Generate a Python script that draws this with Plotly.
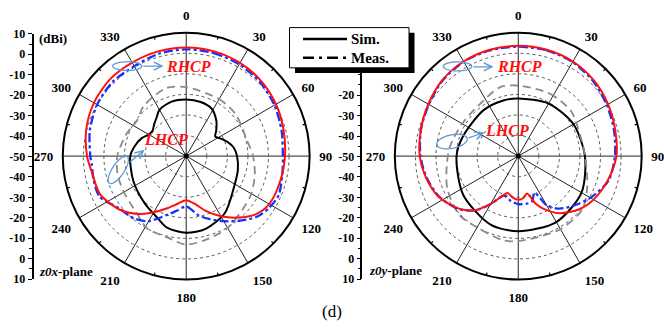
import numpy as np
import plotly.graph_objects as go

W, H = 664, 333

# ---------------- data (dBi vs angle in degrees) ----------------
angle_ticks = [0, 30, 60, 90, 120, 150, 180, 210, 240, 270, 300, 330]
scale_vals = list(range(-60, 61, 10))
scale_text = ["10", "0", "-10", "-20", "-30", "-40", "-50", "-40", "-30", "-20", "-10", "0", "10"]
# on the right-hand scale the top three labels are hidden behind the legend box
n_hidden_right = 3
legend_labels = ["Sim.", "Meas."]

# z0x-plane
zx_sim_rhcp_theta = [0, 15, 30, 45, 60, 75, 90, 105, 120, 130, 140, 150, 160, 170, 180, 190, 200, 210, 218, 225, 232, 246, 260, 270, 285, 300, 315, 330, 345, 360]
zx_sim_rhcp_r = [2.8, 2.7, 2.3, 1.6, 0.4, -1.0, -2.0, -2.7, -3.4, -6.0, -11.0, -16.2, -21.5, -26.5, -28.6, -26.5, -23.0, -18.5, -14.3, -11.0, -8.2, -4.2, -3.5, -1.8, 0.3, 1.8, 2.6, 2.5, 2.7, 2.8]

zx_meas_rhcp_theta = [0, 15, 30, 45, 60, 75, 90, 100, 113, 122, 130, 140, 150, 160, 168, 180, 190, 198, 210, 220, 232, 245, 255, 265, 270, 285, 300, 315, 330, 345, 360]
zx_meas_rhcp_r = [1.9, 1.8, 1.5, 0.8, -0.5, -2.0, -3.0, -2.5, -1.2, -2.5, -4.5, -9.0, -13.5, -17.5, -20.5, -25.5, -23.0, -20.0, -13.5, -10.5, -8.7, -3.5, -3.5, -3.9, -3.4, -1.5, 0.0, 0.8, 0.5, 1.5, 1.9]

zx_sim_lhcp_theta = [0, 15, 28, 41, 50, 56, 62, 71, 80, 90, 105, 123, 146, 165, 180, 195, 205, 221, 245, 270, 280, 292, 300, 307, 315, 322, 330, 345, 360]
zx_sim_lhcp_r = [-22.5, -22.8, -23.8, -27.6, -31.0, -33.0, -31.5, -28.8, -26.5, -25.3, -24.0, -22.3, -16.5, -13.4, -12.7, -14.0, -16.9, -19.4, -21.6, -22.8, -24.3, -26.7, -29.0, -29.5, -28.0, -26.5, -24.0, -22.6, -22.5]

zx_meas_lhcp_theta = [0, 30, 50, 75, 90, 105, 122, 150, 167, 180, 194, 208, 221, 240, 255, 270, 290, 306, 320, 344, 360]
zx_meas_lhcp_r = [-16.5, -18.0, -18.5, -19.5, -17.5, -15.5, -13.2, -9.7, -8.2, -7.0, -9.5, -10.0, -13.3, -15.0, -15.5, -16.5, -19.0, -20.5, -18.0, -15.5, -16.5]

# z0y-plane
zy_sim_rhcp_theta = [0, 15, 30, 45, 60, 75, 90, 105, 120, 131, 144, 155, 160, 167, 173, 180, 187, 196, 202, 210, 219, 229, 243, 257, 270, 285, 300, 315, 330, 345, 360]
zy_sim_rhcp_r = [3.6, 3.5, 3.1, 2.0, 0.4, -1.2, -2.3, -4.9, -7.7, -10.6, -15.7, -22.0, -25.5, -31.3, -29.5, -28.8, -29.5, -31.3, -29.0, -23.2, -16.1, -11.3, -6.5, -3.9, -2.1, -1.0, 0.5, 2.2, 3.1, 3.5, 3.6]

zy_meas_rhcp_theta = [0, 15, 30, 45, 60, 75, 90, 105, 119, 130, 142, 150, 156, 163, 170, 180, 190, 200, 210, 219, 229, 243, 257, 270, 285, 300, 315, 330, 345, 360]
zy_meas_rhcp_r = [3.2, 3.2, 2.8, 1.5, -0.3, -1.8, -3.0, -4.5, -9.1, -13.3, -17.6, -22.5, -30.5, -27.0, -26.5, -26.7, -28.0, -29.6, -23.0, -16.0, -11.0, -6.8, -4.2, -2.5, -1.0, 0.2, 2.0, 3.0, 3.2, 3.2]

zy_sim_lhcp_theta = [0, 30, 60, 90, 120, 150, 180, 202, 235, 270, 290, 323, 345, 360]
zy_sim_lhcp_r = [-22.0, -20.5, -19.0, -17.6, -14.5, -13.0, -13.5, -14.1, -17.3, -20.0, -21.5, -22.0, -22.0, -22.0]

zy_meas_lhcp_theta = [0, 27, 50, 73, 90, 114, 130, 150, 167, 180, 190, 210, 225, 245, 263, 278, 300, 322, 345, 360]
zy_meas_lhcp_r = [-15.7, -16.0, -16.3, -18.3, -17.5, -13.3, -9.4, -9.0, -9.5, -8.7, -8.4, -10.0, -9.5, -12.0, -15.0, -16.5, -18.5, -18.7, -15.4, -15.7]

# ---------------- styling helpers ----------------
FONT = "Liberation Serif"
RED = "#ff1010"
BLUE = "#1530ff"
GRAY = "#8a8a8a"
LBLUE = "#5b9bd5"
DASHDOT = "9px,3px,3px,3px"
R_MIN, R_MAX = -50, 10


def px(x):
    return x / W


def py(y):
    return 1 - y / H


fig = go.Figure()

# minor angular ticks (inside the outer ring, midway between labelled angles)
minor_theta, minor_r = [], []
for a in angle_ticks:
    minor_theta += [a + 15, a + 15, None]
    minor_r += [R_MAX - 1.4, R_MAX, None]


def add_plane(sub, sim_rhcp, meas_rhcp, sim_lhcp, meas_lhcp):
    fig.add_trace(go.Scatterpolar(theta=minor_theta, r=minor_r, mode="lines", subplot=sub,
                                  line=dict(color="black", width=1.2), connectgaps=False,
                                  showlegend=False, hoverinfo="skip"))
    fig.add_trace(go.Scatterpolar(theta=sim_lhcp[0], r=sim_lhcp[1], mode="lines", subplot=sub,
                                  line=dict(color="black", width=2, shape="spline", smoothing=0.8),
                                  showlegend=False, hoverinfo="skip"))
    fig.add_trace(go.Scatterpolar(theta=meas_lhcp[0], r=meas_lhcp[1], mode="lines", subplot=sub,
                                  line=dict(color=GRAY, width=1.8, dash="8px,5px", shape="spline", smoothing=0.8),
                                  showlegend=False, hoverinfo="skip"))
    fig.add_trace(go.Scatterpolar(theta=meas_rhcp[0], r=meas_rhcp[1], mode="lines", subplot=sub,
                                  line=dict(color=BLUE, width=2.3, dash=DASHDOT, shape="spline", smoothing=0.8),
                                  showlegend=False, hoverinfo="skip"))
    fig.add_trace(go.Scatterpolar(theta=sim_rhcp[0], r=sim_rhcp[1], mode="lines", subplot=sub,
                                  line=dict(color=RED, width=2, shape="spline", smoothing=0.8),
                                  showlegend=False, hoverinfo="skip"))
    fig.add_trace(go.Scatterpolar(theta=[0], r=[R_MIN], mode="markers", subplot=sub,
                                  marker=dict(color="black", size=5), showlegend=False, hoverinfo="skip"))


add_plane("polar", (zx_sim_rhcp_theta, zx_sim_rhcp_r), (zx_meas_rhcp_theta, zx_meas_rhcp_r),
          (zx_sim_lhcp_theta, zx_sim_lhcp_r), (zx_meas_lhcp_theta, zx_meas_lhcp_r))
add_plane("polar2", (zy_sim_rhcp_theta, zy_sim_rhcp_r), (zy_meas_rhcp_theta, zy_meas_rhcp_r),
          (zy_sim_lhcp_theta, zy_sim_lhcp_r), (zy_meas_lhcp_theta, zy_meas_lhcp_r))

# invisible traces to hold the scale axes
fig.add_trace(go.Scatter(x=[None], y=[None], xaxis="x", yaxis="y", showlegend=False, hoverinfo="skip"))
fig.add_trace(go.Scatter(x=[None], y=[None], xaxis="x2", yaxis="y2", showlegend=False, hoverinfo="skip"))

y_dom = [py(284.5), py(26.8)]
y_scale_dom = [py(284.0), py(28.0)]

polar_common = dict(
    bgcolor="rgba(0,0,0,0)",
    angularaxis=dict(direction="clockwise", rotation=90, tickvals=angle_ticks,
                     ticktext=[str(a) for a in angle_ticks], showline=True, linecolor="black",
                     linewidth=2, gridcolor="#222", gridwidth=1, ticks="outside", ticklen=6,
                     tickcolor="rgba(0,0,0,0)",
                     tickfont=dict(family=FONT, size=13, color="black", weight="bold")),
    radialaxis=dict(range=[R_MIN, R_MAX], tick0=R_MIN, dtick=10, showticklabels=False, ticks="",
                    showline=False, gridcolor="#555", gridwidth=1, griddash="dot"),
)

yaxis_common = dict(range=[-60, 60], ticks="outside",
                    ticklen=4, tickwidth=1.2, tickcolor="black", showline=True, linecolor="black",
                    linewidth=1.5, showgrid=False, zeroline=False, fixedrange=True,
                    minor=dict(dtick=5, ticks="outside", ticklen=2.5, tickcolor="black", tickwidth=1),
                    tickfont=dict(family=FONT, size=12, color="black", weight="bold"))

fig.update_layout(
    width=W, height=H, margin=dict(l=0, r=0, t=0, b=0),
    paper_bgcolor="white", plot_bgcolor="rgba(0,0,0,0)",
    polar=dict(domain=dict(x=[px(57.4), px(315.0)], y=y_dom), **polar_common),
    polar2=dict(domain=dict(x=[px(390.5), px(646.0)], y=y_dom), **polar_common),
    xaxis=dict(domain=[px(33.5), px(40)], visible=False, anchor="y"),
    yaxis=dict(domain=y_scale_dom, anchor="x", tickvals=scale_vals, ticktext=scale_text, **yaxis_common),
    xaxis2=dict(domain=[px(362.3), px(369)], visible=False, anchor="y2"),
    yaxis2=dict(domain=y_scale_dom, anchor="x2",
                tickvals=scale_vals[:len(scale_vals) - n_hidden_right],
                ticktext=scale_text[:len(scale_text) - n_hidden_right], **yaxis_common),
    showlegend=False,
)

shapes = []
# legend box with shadow
shapes.append(dict(type="rect", xref="paper", yref="paper", x0=px(295), x1=px(414.5), y0=py(69), y1=py(27),
                   fillcolor="black", line=dict(width=0), layer="above"))
shapes.append(dict(type="rect", xref="paper", yref="paper", x0=px(289.5), x1=px(409), y0=py(63.5), y1=py(21.5),
                   fillcolor="white", line=dict(color="black", width=1), layer="above"))
shapes.append(dict(type="line", xref="paper", yref="paper", x0=px(303), x1=px(347), y0=py(33.5), y1=py(33.5),
                   line=dict(color="black", width=2.5), layer="above"))
shapes.append(dict(type="line", xref="paper", yref="paper", x0=px(303), x1=px(347), y0=py(53), y1=py(53),
                   line=dict(color="black", width=2.5, dash="11px,5px,3px,5px"), layer="above"))


def ellipse_path(cx, cy, rx, ry, rot_deg):
    t = np.linspace(0, 2 * np.pi, 60)
    a = np.deg2rad(rot_deg)
    xs = cx + rx * np.cos(t) * np.cos(a) - ry * np.sin(t) * np.sin(a)
    ys = cy + rx * np.cos(t) * np.sin(a) + ry * np.sin(t) * np.cos(a)
    pts = ["%s%.5f,%.5f" % ("M" if i == 0 else "L", px(x), py(y)) for i, (x, y) in enumerate(zip(xs, ys))]
    return " ".join(pts) + " Z"


for (cx, cy, rx, ry, rot) in [(127.2, 61.7, 14.5, 4.5, 0), (118.3, 170.0, 16.5, 6.0, -58),
                              (457.5, 62.0, 14.2, 4.7, 0), (452.0, 140.5, 15.5, 7.0, -12)]:
    shapes.append(dict(type="path", xref="paper", yref="paper", path=ellipse_path(cx, cy, rx, ry, rot),
                       line=dict(color=LBLUE, width=1.3), fillcolor="rgba(0,0,0,0)", layer="above"))

fig.update_layout(shapes=shapes)

annotations = []


def txt(x, y, s, size=13, color="black", xanchor="center", **kw):
    annotations.append(dict(x=px(x), y=py(y), xref="paper", yref="paper", text=s, showarrow=False,
                            xanchor=xanchor, yanchor="middle",
                            font=dict(family=FONT, size=size, color=color, weight="bold"), **kw))


def arrow(x0, y0, x1, y1):
    annotations.append(dict(x=px(x1), y=py(y1), xref="paper", yref="paper", ax=x0 - x1, ay=y0 - y1,
                            text="", showarrow=True, arrowhead=5, arrowsize=1.2, arrowwidth=1.3,
                            arrowcolor=LBLUE))


txt(36.5, 32.5, "(dBi)", size=13, xanchor="left")
txt(36.5, 276.5, "<i>z0x</i>-plane", size=13, xanchor="left")
txt(367.0, 275.5, "<i>z0y</i>-plane", size=13, xanchor="left")
txt(188.5, 62.0, "<i>RHCP</i>", size=16, color=RED)
txt(165.5, 138.5, "<i>LHCP</i>", size=16, color=RED)
txt(519.0, 62.5, "<i>RHCP</i>", size=16, color=RED)
txt(507.0, 128.5, "<i>LHCP</i>", size=16, color=RED)
txt(349.0, 33.5, legend_labels[0], size=15, xanchor="left")
txt(349.0, 53.0, legend_labels[1], size=15, xanchor="left")
arrow(141.7, 61.7, 163.5, 61.7)
arrow(128.5, 162.5, 144.5, 149.0)
arrow(471.7, 62.5, 493.5, 62.5)
arrow(467.0, 137.0, 484.5, 131.0)
annotations.append(dict(x=0.5, y=py(318), xref="paper", yref="paper", text="(d)", showarrow=False,
                        xanchor="center", yanchor="middle",
                        font=dict(family=FONT, size=17, color="black")))
fig.update_layout(annotations=annotations)

fig.write_html("out.html")
